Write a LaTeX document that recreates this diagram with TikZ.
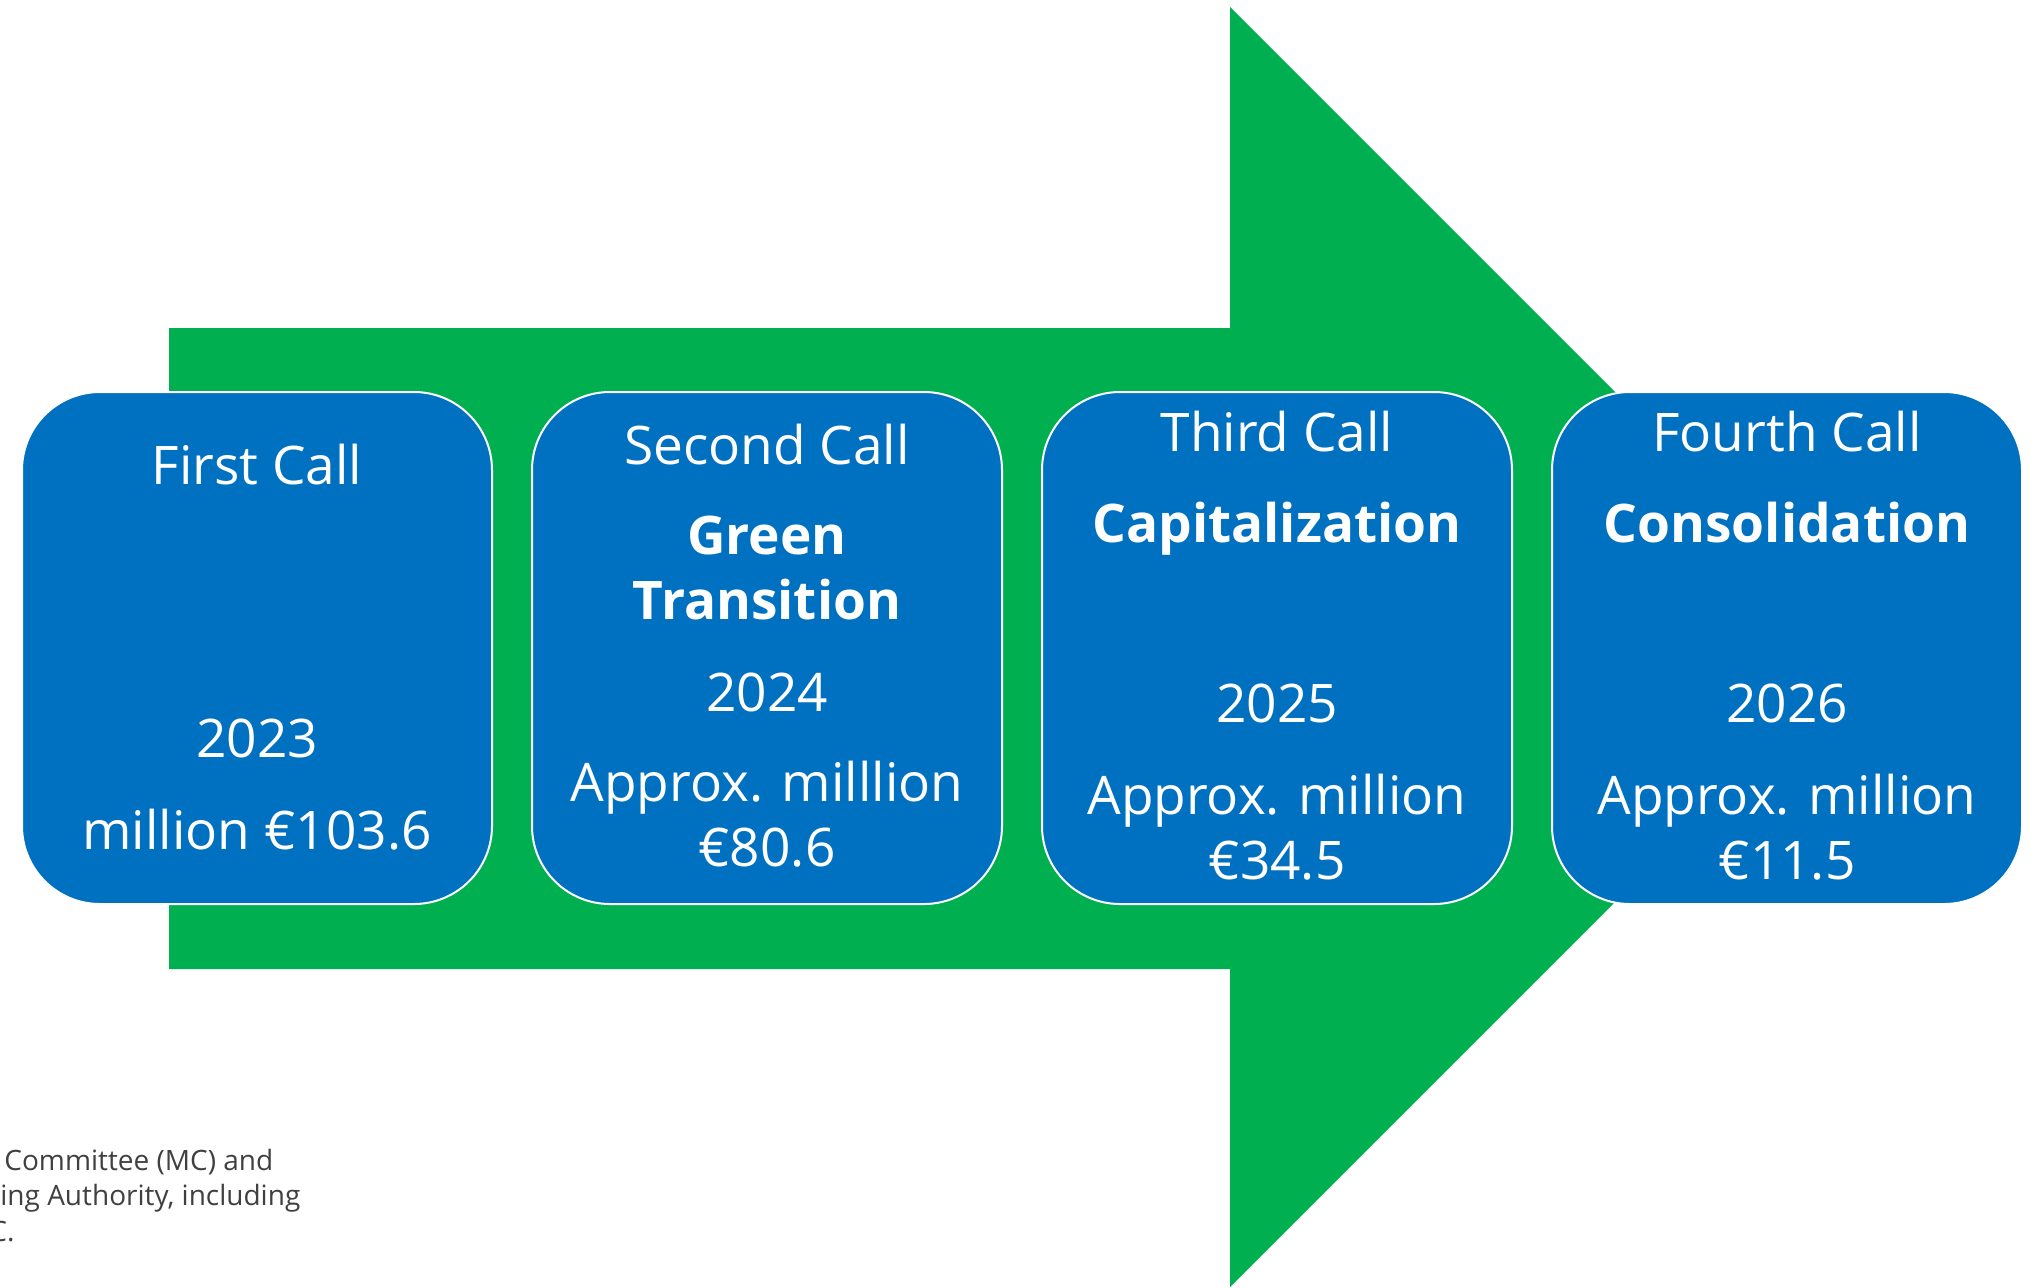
\documentclass[tikz,border=0pt]{standalone}
\usepackage{fontspec}
\setmainfont{Open Sans}
\usetikzlibrary{positioning}
\definecolor{callblue}{HTML}{0070C0}
\definecolor{arrowgreen}{HTML}{00B050}
\definecolor{notegrey}{HTML}{404040}
\tikzset{
	callbox/.style={draw=white, line width=1pt, fill=callblue, rounded corners=39pt,
		minimum width=235pt, minimum height=256pt, inner sep=0pt},
	calltext/.style={text=white, anchor=base, inner sep=0pt, font=\fontsize{26.6}{30}\selectfont},
	callhead/.style={calltext, font=\fontsize{26.6}{30}\selectfont\bfseries},
	notetext/.style={text=notegrey, anchor=base west, inner sep=0pt, font=\fontsize{14}{17}\selectfont}
}
\begin{document}
\begin{tikzpicture}[x=0.5pt, y=-0.5pt]
					\useasboundingbox (0,0) rectangle (2040,1287);
					\clip (0,0) rectangle (2040,1287);
					% big arrow
					\fill[arrowgreen] (169,328)--(1230,328)--(1230,7)--(1870,647)--(1230,1287)--(1230,969)--(169,969)--cycle;
					% calls
					\node[callbox] (first) at (257,648) {};
					\node[callbox, right=19pt of first] (second) {};
					\node[callbox, right=19pt of second] (third) {};
					\node[callbox, right=19pt of third] (fourth) {};
					\node[calltext] (firstA) at ([yshift=-46.5pt]first.north) {First Call};
					\node[calltext] (firstB) at ([yshift=-183pt]first.north) {2023};
					\node[calltext] (firstC) at ([yshift=-229pt]first.north) {million €103.6};
					\node[calltext] (secondA) at ([yshift=-36.5pt]second.north) {Second Call};
					\node[callhead] (secondB) at ([yshift=-81.5pt]second.north) {Green};
					\node[callhead] (secondC) at ([yshift=-114pt]second.north) {Transition};
					\node[calltext] (secondD) at ([yshift=-160pt]second.north) {2024};
					\node[calltext] (secondE) at ([yshift=-205pt]second.north) {Approx. milllion};
					\node[calltext] (secondF) at ([yshift=-237.5pt]second.north) {€80.6};
					\node[calltext] (thirdA) at ([yshift=-30pt]third.north) {Third Call};
					\node[callhead] (thirdB) at ([yshift=-75.5pt]third.north) {Capitalization};
					\node[calltext] (thirdC) at ([yshift=-165.5pt]third.north) {2025};
					\node[calltext] (thirdD) at ([yshift=-211.5pt]third.north) {Approx. million};
					\node[calltext] (thirdE) at ([yshift=-244pt]third.north) {€34.5};
					\node[calltext] (fourthA) at ([yshift=-30pt]fourth.north) {Fourth Call};
					\node[callhead] (fourthB) at ([yshift=-75.5pt]fourth.north) {Consolidation};
					\node[calltext] (fourthC) at ([yshift=-165.5pt]fourth.north) {2026};
					\node[calltext] (fourthD) at ([yshift=-211.5pt]fourth.north) {Approx. million};
					\node[calltext] (fourthE) at ([yshift=-244pt]fourth.north) {€11.5};
					% note, cut at the left edge
					\node[notetext] (noteA) at (4,1170) {Committee (MC) and};
					\node[notetext] (noteB) at (0,1205) {ing Authority, including};
					\node[notetext] (noteC) at (-11,1241) {C.};
				\end{tikzpicture}
\end{document}
